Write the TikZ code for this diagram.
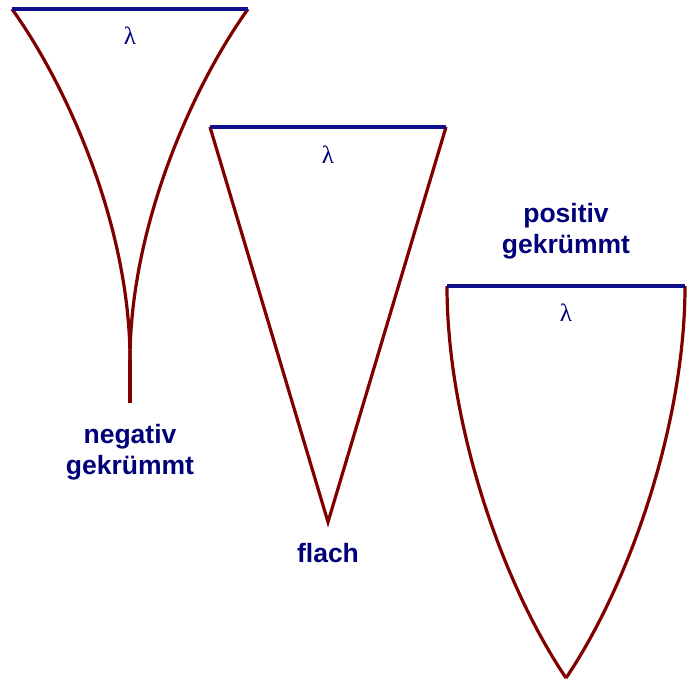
\documentclass[tikz,border=0pt]{standalone}
\usepackage{fontspec}
\setmainfont{Liberation Sans}
\newfontfamily\lamfont{Liberation Serif}
\definecolor{edgeblue}{RGB}{16,16,140}
\definecolor{edgered}{RGB}{128,0,0}
\definecolor{labelblue}{RGB}{0,0,120}

\begin{document}
\begin{tikzpicture}[x=1pt,y=-1pt,
    topline/.style={edgeblue,line width=3.2pt},
    sideline/.style={edgered,line width=3.2pt},
    lam/.style={text=labelblue,font=\lamfont\fontsize{25}{25}\selectfont},
    curvlabel/.style={text=labelblue,font=\bfseries\fontsize{26.5}{31}\selectfont,align=center}]
  \useasboundingbox (0,0) rectangle (692,681);
  % negativ gekruemmt
  \coordinate (nl) at (12,9);
  \coordinate (nr) at (248,9);
  \coordinate (nm) at (130,360);
  \coordinate (nt) at (130,403);
  \draw[sideline] (nl) .. controls (70,90) and (130,230) .. (nm);
  \draw[sideline] (nr) .. controls (190,90) and (130,230) .. (nm);
  \draw[sideline] (nm) -- (nt);
  \draw[topline] (nl) -- (nr);
  \node[lam] (nlam) at (130,36) {λ};
  \node[curvlabel] (nlab) at (130,452) {negativ\\gekrümmt};
  % flach
  \coordinate (fl) at (210,127);
  \coordinate (fr) at (446,127);
  \coordinate (ft) at (328,522);
  \draw[sideline] (fl) -- (ft) -- (fr);
  \draw[topline] (fl) -- (fr);
  \node[lam] (flam) at (328,155) {λ};
  \node[curvlabel] (flab) at (328,553) {flach};
  % positiv gekruemmt
  \coordinate (pl) at (447,286);
  \coordinate (pr) at (685,286);
  \coordinate (pt) at (566,678);
  \draw[sideline] (pl) .. controls (447,420) and (500,580) .. (pt);
  \draw[sideline] (pr) .. controls (685,420) and (632,580) .. (pt);
  \draw[topline] (pl) -- (pr);
  \node[lam] (plam) at (566,313) {λ};
  \node[curvlabel] (plab) at (566,231) {positiv\\gekrümmt};
\end{tikzpicture}
\end{document}
